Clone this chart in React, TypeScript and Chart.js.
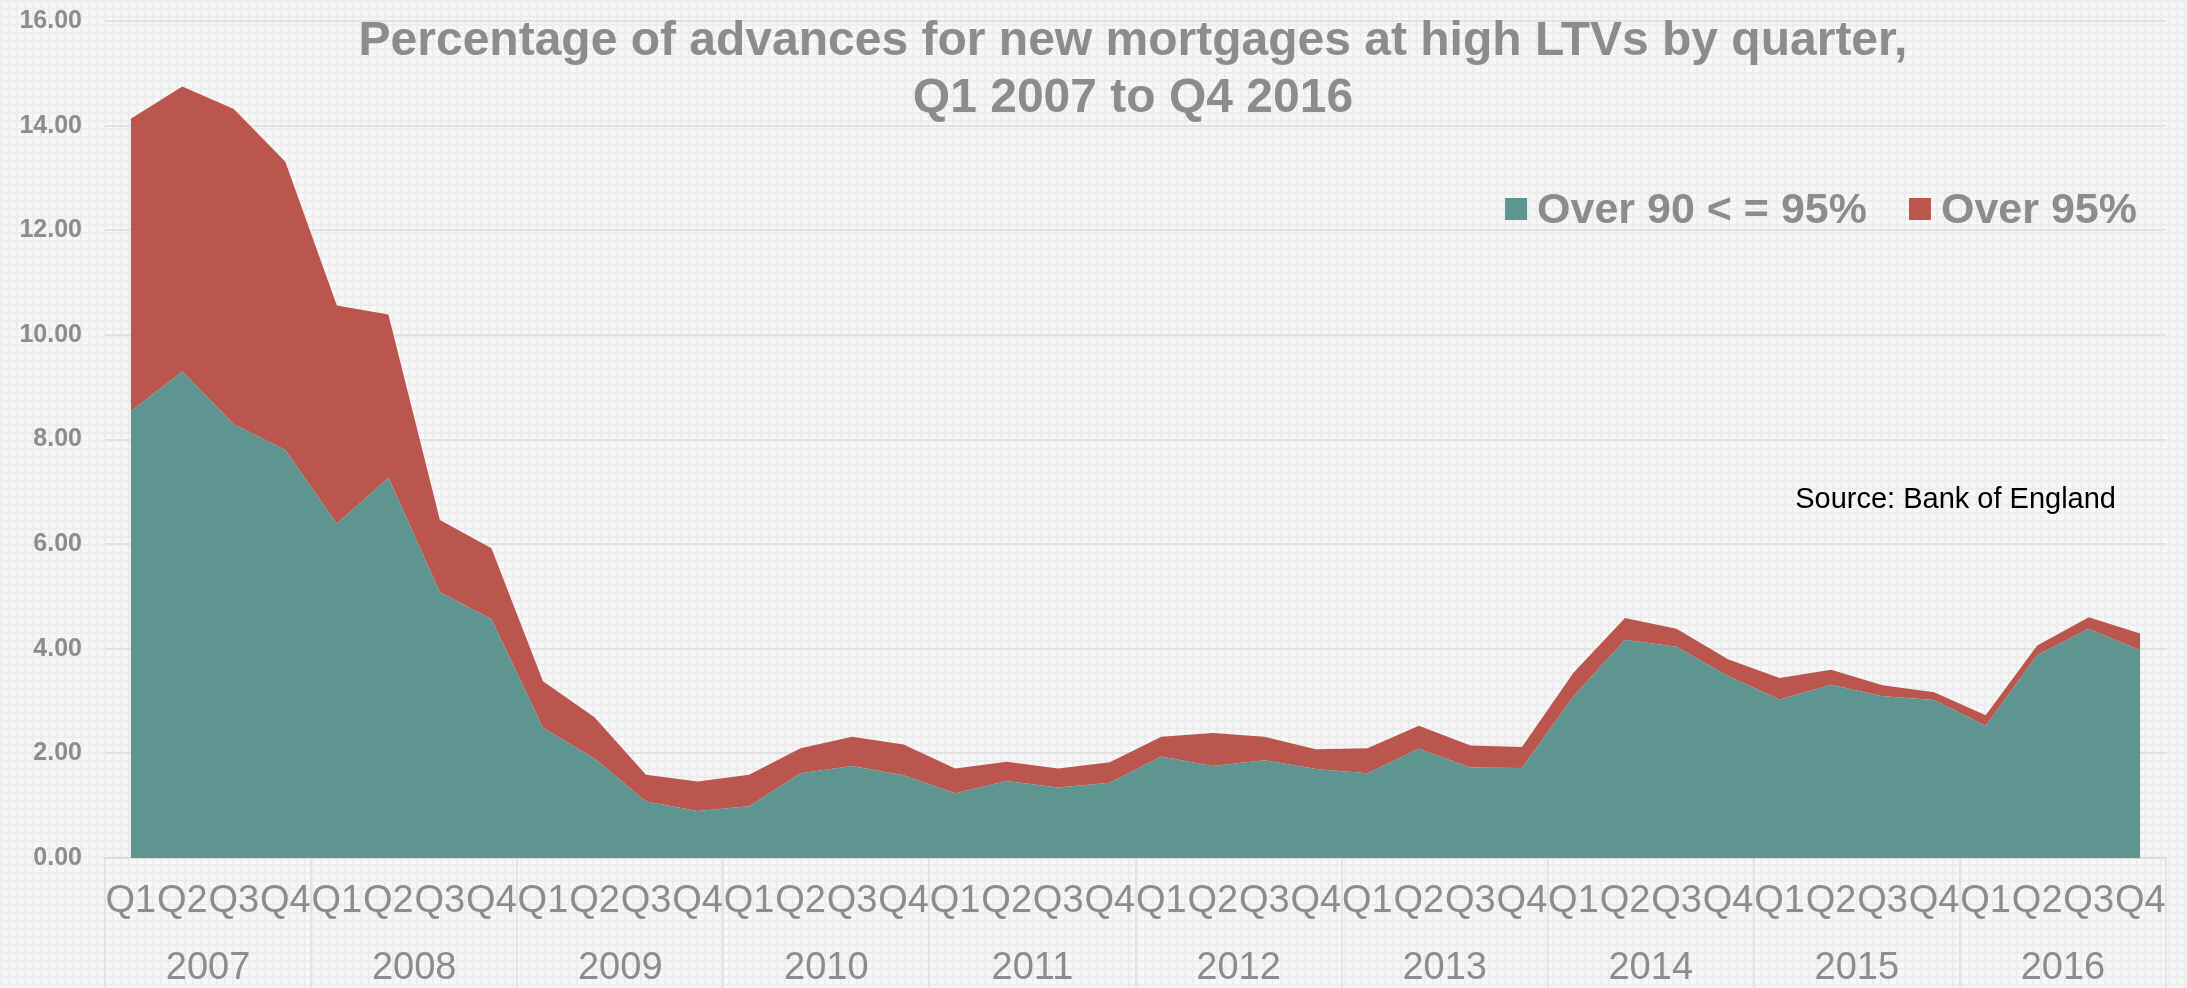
import React, { useEffect, useRef } from 'react';
import { Chart, registerables } from 'chart.js';

Chart.register(...registerables);

const FONT = '"Liberation Sans", Arial, Helvetica, sans-serif';
const GRAY = '#8c8c8c';
const TEAL = '#5f9591';
const RED = '#ba564e';

const TITLE_LINES = [
  'Percentage of advances for new mortgages at high LTVs by quarter,',
  'Q1 2007 to Q4 2016',
];
const SOURCE_TEXT = 'Source: Bank of England';

const QUARTERS = ['Q1', 'Q2', 'Q3', 'Q4'];
const YEARS = ['2007', '2008', '2009', '2010', '2011', '2012', '2013', '2014', '2015', '2016'];
const CATEGORIES = YEARS.flatMap(() => QUARTERS);

const SERIES_NAMES = ['Over 90 < = 95%', 'Over 95%'];

// Over 90% up to and including 95% LTV
const over90to95 = [
  8.54, 9.30, 8.29, 7.80,
  6.39, 7.27, 5.08, 4.57,
  2.49, 1.90, 1.08, 0.90,
  0.99, 1.62, 1.76, 1.58,
  1.24, 1.47, 1.35, 1.44,
  1.94, 1.76, 1.87, 1.70,
  1.62, 2.09, 1.73, 1.72,
  3.09, 4.17, 4.04, 3.48,
  3.03, 3.31, 3.09, 3.02,
  2.53, 3.88, 4.38, 3.97,
];

// Over 95% LTV
const over95 = [
  5.59, 5.45, 6.03, 5.51,
  4.17, 3.12, 1.38, 1.35,
  0.89, 0.79, 0.51, 0.56,
  0.60, 0.48, 0.56, 0.59,
  0.47, 0.37, 0.36, 0.39,
  0.38, 0.63, 0.45, 0.38,
  0.48, 0.44, 0.42, 0.40,
  0.45, 0.42, 0.34, 0.32,
  0.41, 0.29, 0.21, 0.15,
  0.20, 0.18, 0.22, 0.32,
];

const Y_MIN = 0;
const Y_MAX = 16;
const Y_STEP = 2;

const textPlugin = {
  id: 'textOverlay',
  afterDraw(chart: any) {
    const ctx = chart.ctx as CanvasRenderingContext2D;
    ctx.save();
    // Title
    ctx.fillStyle = GRAY;
    ctx.font = `bold 48px ${FONT}`;
    ctx.textAlign = 'center';
    ctx.textBaseline = 'alphabetic';
    ctx.fillText(TITLE_LINES[0], 1133, 55);
    ctx.fillText(TITLE_LINES[1], 1133, 112);

    // Legend
    ctx.font = `bold 43px ${FONT}`;
    ctx.textAlign = 'left';
    const w2 = ctx.measureText(SERIES_NAMES[1]).width;
    const w1 = ctx.measureText(SERIES_NAMES[0]).width;
    const t2 = 2137 - w2;
    const b2 = t2 - 10 - 22;
    const t1 = b2 - 42 - w1;
    const b1 = t1 - 10 - 22;
    ctx.fillStyle = TEAL;
    ctx.fillRect(b1, 198, 22, 22);
    ctx.fillStyle = RED;
    ctx.fillRect(b2, 198, 22, 22);
    ctx.fillStyle = GRAY;
    ctx.fillText(SERIES_NAMES[0], t1, 223);
    ctx.fillText(SERIES_NAMES[1], t2, 223);

    // Source
    ctx.font = `29px ${FONT}`;
    ctx.fillStyle = '#000000';
    ctx.textAlign = 'right';
    ctx.fillText(SOURCE_TEXT, 2116, 508);
    ctx.restore();
  },
};

export default function App() {
  const canvasRef = useRef<HTMLCanvasElement | null>(null);

  useEffect(() => {
    if (!canvasRef.current) return;
    const chart = new Chart(canvasRef.current, {
      type: 'line',
      data: {
        labels: CATEGORIES,
        datasets: [
          {
            label: SERIES_NAMES[0],
            data: over90to95,
            backgroundColor: TEAL,
            borderColor: TEAL,
            borderWidth: 0,
            pointRadius: 0,
            tension: 0,
            fill: 'origin',
          },
          {
            label: SERIES_NAMES[1],
            data: over95,
            backgroundColor: RED,
            borderColor: RED,
            borderWidth: 0,
            pointRadius: 0,
            tension: 0,
            fill: '-1',
          },
        ],
      },
      options: {
        responsive: false,
        animation: false,
        layout: { padding: { left: 0, right: 21, top: 21, bottom: 0 } },
        plugins: {
          legend: { display: false },
          title: { display: false },
          tooltip: { enabled: false },
        },
        scales: {
          x: {
            type: 'category',
            offset: true,
            stacked: true,
            grid: {
              offset: true,
              drawOnChartArea: false,
              drawTicks: true,
              tickLength: 130,
              lineWidth: 2,
              color: (c: any) => ((c.index ?? 0) % 4 === 0 ? '#e3e3e3' : 'rgba(0,0,0,0)'),
            },
            border: { display: true, color: '#dcdcdc', width: 2 },
            ticks: {
              autoSkip: false,
              maxRotation: 0,
              minRotation: 0,
              padding: -109,
              color: GRAY,
              font: { family: FONT, size: 38, lineHeight: 1.2 },
            },
            afterFit: (s: any) => {
              s.height = 70;
            },
          },
          x2: {
            type: 'category',
            labels: YEARS,
            offset: true,
            position: 'bottom',
            weight: 1,
            grid: { display: false, drawTicks: false },
            border: { display: false },
            ticks: {
              autoSkip: false,
              maxRotation: 0,
              minRotation: 0,
              padding: 18,
              color: GRAY,
              font: { family: FONT, size: 38, lineHeight: 1.2 },
            },
            afterFit: (s: any) => {
              s.height = 60;
            },
          },
          y: {
            stacked: true,
            min: Y_MIN,
            max: Y_MAX,
            ticks: {
              stepSize: Y_STEP,
              padding: 23,
              color: GRAY,
              font: { family: FONT, size: 25, weight: 'bold', lineHeight: 1 },
              callback: (v: any) => Number(v).toFixed(2),
            },
            grid: { color: '#e2e2e2', lineWidth: 2, drawTicks: false },
            border: { display: false },
            afterFit: (s: any) => {
              s.width = 105;
              s.paddingTop = 0;
              s.paddingBottom = 0;
            },
          },
        },
      } as any,
      plugins: [textPlugin],
    });
    return () => chart.destroy();
  }, []);

  return (
    <div
      style={{
        position: 'fixed',
        left: 0,
        top: 0,
        width: 2187,
        height: 988,
        backgroundColor: '#f7f7f7',
        backgroundImage:
          'linear-gradient(#ededed 2px, transparent 2px), linear-gradient(90deg, #ededed 2px, transparent 2px)',
        backgroundSize: '8px 8px',
      }}
    >
      <canvas ref={canvasRef} width={2187} height={988} style={{ display: 'block' }} />
    </div>
  );
}
